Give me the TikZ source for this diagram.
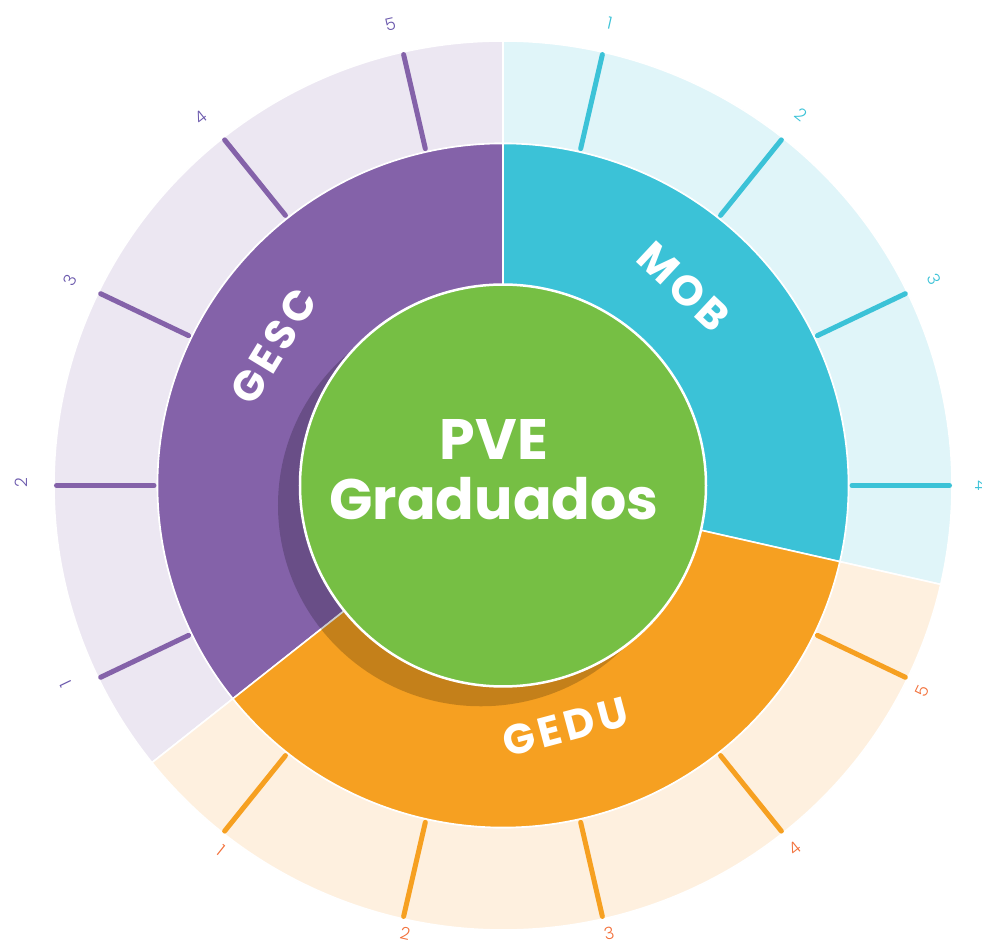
\documentclass[tikz,border=0pt]{standalone}
\usepackage{fontspec}
\setmainfont{Poppins}
\newfontfamily\thinfont{Poppins Light}
\usepackage{tikz}
\usepackage{xcolor}

\definecolor{gescbase}{HTML}{8462A9}
\definecolor{gescpale}{HTML}{ECE7F2}
\definecolor{gescnum}{HTML}{6A58AC}
\definecolor{mobbase}{HTML}{3BC2D7}
\definecolor{mobpale}{HTML}{E0F5F9}
\definecolor{mobnum}{HTML}{3BC2D7}
\definecolor{gedubase}{HTML}{F6A021}
\definecolor{gedupale}{HTML}{FEF0DF}
\definecolor{gedunum}{HTML}{F2703A}
\definecolor{pvegreen}{HTML}{76BF44}

\tikzset{
  sep/.style={draw=white, line width=1.6pt},
  tickbar/.style={line width=5pt, line cap=round},
  ticknum/.style={inner sep=0pt, font=\thinfont\fontsize{17}{17}\selectfont},
  seglbl/.style={inner sep=0pt, text=white, font=\bfseries\fontsize{42}{42}\selectfont\addfontfeature{LetterSpace=10}},
  centerlbl/.style={inner sep=0pt, anchor=base, text=white, font=\bfseries\fontsize{57}{57}\selectfont},
}

\begin{document}
\begin{tikzpicture}[x=1pt,y=0.99pt]

\useasboundingbox (-503,-465.2) rectangle (479,490.4);

\pgfmathsetmacro{\rin}{203}
\pgfmathsetmacro{\rmid}{345.5}
\pgfmathsetmacro{\rout}{449}
\pgfmathsetmacro{\tin}{349}
\pgfmathsetmacro{\tout}{446.5}

% Draw the pale outer ring
\filldraw[sep, fill=mobpale ] (-12.86:\rmid) -- (-12.86:\rout) arc[start angle=-12.86, end angle=90,     radius=\rout] -- (90:\rmid)     arc[start angle=90,     end angle=-12.86, radius=\rmid] -- cycle ;
\filldraw[sep, fill=gescpale] (90:\rmid)     -- (90:\rout)     arc[start angle=90,     end angle=218.57, radius=\rout] -- (218.57:\rmid) arc[start angle=218.57, end angle=90,     radius=\rmid] -- cycle ;
\filldraw[sep, fill=gedupale] (218.57:\rmid) -- (218.57:\rout) arc[start angle=218.57, end angle=347.14, radius=\rout] -- (347.14:\rmid) arc[start angle=347.14, end angle=218.57, radius=\rmid] -- cycle ;

% Draw the coloured middle ring
\filldraw[sep, fill=mobbase ] (0,0) -- (-12.86:\rmid) arc[start angle=-12.86, end angle=90,     radius=\rmid] -- cycle ;
\filldraw[sep, fill=gescbase] (0,0) -- (90:\rmid)     arc[start angle=90,     end angle=218.57, radius=\rmid] -- cycle ;
\filldraw[sep, fill=gedubase] (0,0) -- (218.57:\rmid) arc[start angle=218.57, end angle=347.14, radius=\rmid] -- cycle ;

% Draw the ticks
\draw[tickbar, mobbase ] (0:\tin)      -- (0:\tout) ;
\draw[tickbar, mobbase ] (25.71:\tin)  -- (25.71:\tout) ;
\draw[tickbar, mobbase ] (51.43:\tin)  -- (51.43:\tout) ;
\draw[tickbar, mobbase ] (77.14:\tin)  -- (77.14:\tout) ;
\draw[tickbar, gescbase] (102.86:\tin) -- (102.86:\tout) ;
\draw[tickbar, gescbase] (128.57:\tin) -- (128.57:\tout) ;
\draw[tickbar, gescbase] (154.29:\tin) -- (154.29:\tout) ;
\draw[tickbar, gescbase] (180:\tin)    -- (180:\tout) ;
\draw[tickbar, gescbase] (205.71:\tin) -- (205.71:\tout) ;
\draw[tickbar, gedubase] (231.43:\tin) -- (231.43:\tout) ;
\draw[tickbar, gedubase] (257.14:\tin) -- (257.14:\tout) ;
\draw[tickbar, gedubase] (282.86:\tin) -- (282.86:\tout) ;
\draw[tickbar, gedubase] (308.57:\tin) -- (308.57:\tout) ;
\draw[tickbar, gedubase] (334.29:\tin) -- (334.29:\tout) ;

% Tick numbers
\node[ticknum, text=mobnum,  rotate=-90    ] (mob4)  at (0:479)      {4} ;
\node[ticknum, text=mobnum,  rotate=-64.29 ] (mob3)  at (25.71:479)  {3} ;
\node[ticknum, text=mobnum,  rotate=-38.57 ] (mob2)  at (51.43:479)  {2} ;
\node[ticknum, text=mobnum,  rotate=-12.86 ] (mob1)  at (77.14:479)  {1} ;
\node[ticknum, text=gescnum, rotate=12.86  ] (gesc5) at (103.6:479)  {5} ;
\node[ticknum, text=gescnum, rotate=38.57  ] (gesc4) at (129.1:479)  {4} ;
\node[ticknum, text=gescnum, rotate=64.29  ] (gesc3) at (154.4:480)  {3} ;
\node[ticknum, text=gescnum, rotate=90     ] (gesc2) at (179.6:482)  {2} ;
\node[ticknum, text=gescnum, rotate=115.71 ] (gesc1) at (204.6:481)  {1} ;
\node[ticknum, text=gedunum, rotate=-38.57 ] (gedu1) at (232.6:464)  {1} ;
\node[ticknum, text=gedunum, rotate=-12.86 ] (gedu2) at (257.8:463)  {2} ;
\node[ticknum, text=gedunum, rotate=12.86  ] (gedu3) at (283.2:465)  {3} ;
\node[ticknum, text=gedunum, rotate=38.57  ] (gedu4) at (308.5:468)  {4} ;
\node[ticknum, text=gedunum, rotate=64.29  ] (gedu5) at (333.6:468)  {5} ;

% Shadow under the centre
\fill[black, opacity=0.2] (-22,-20) circle (\rin) ;

% Centre circle
\filldraw[pvegreen, draw=white, line width=2.5pt] (0,0) circle (\rin) ;
\node[centerlbl] (pve)  at (-9, 25.8)  {PVE} ;
\node[centerlbl] (grad) at (-9, -34.8) {Graduados} ;

% Segment names
\node[seglbl, rotate=58.7 ] (gesc) at (148.5:269) {GESC} ;
\node[seglbl, rotate=-43  ] (mob)  at (48:270)    {MOB} ;
\node[seglbl, rotate=15   ] (gedu) at (-75.6:252) {GEDU} ;

\end{tikzpicture}
\end{document}
